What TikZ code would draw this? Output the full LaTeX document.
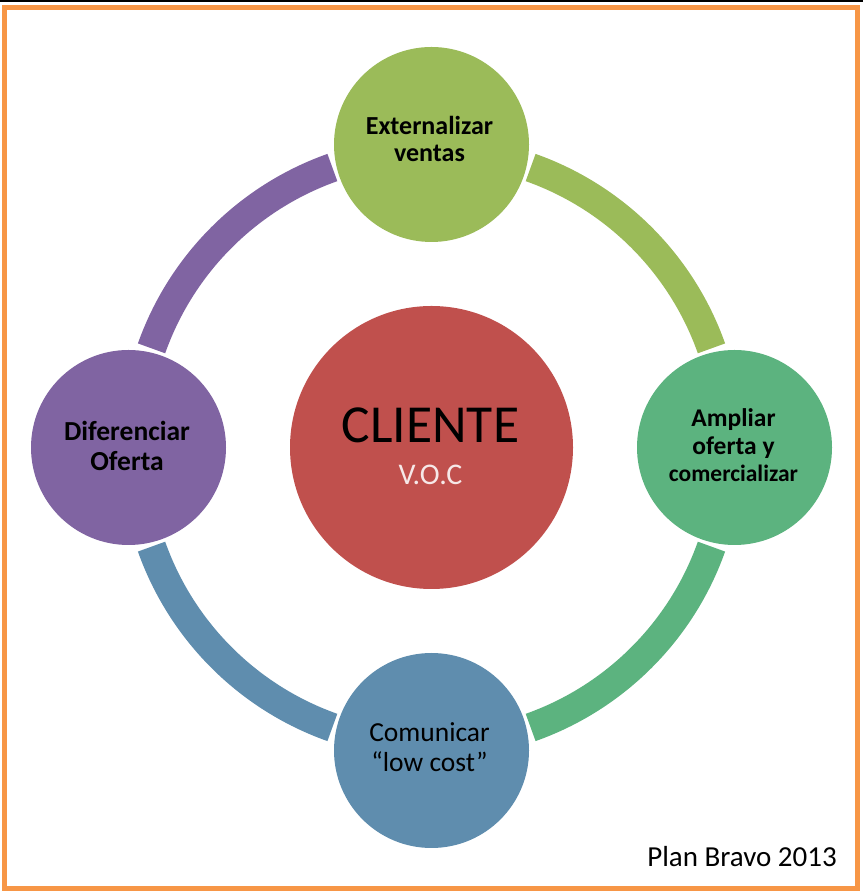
\documentclass[tikz,border=0pt]{standalone}
\usepackage{fontspec}
\setmainfont{Carlito}
\definecolor{cgreen}{HTML}{9BBB59}
\definecolor{cteal}{HTML}{5CB37F}
\definecolor{cblue}{HTML}{5F8DAE}
\definecolor{cpurple}{HTML}{8064A2}
\definecolor{cred}{HTML}{C0504D}
\definecolor{corange}{HTML}{F79646}
\definecolor{cvoc}{HTML}{F6E8E8}
\begin{document}
\begin{tikzpicture}[x=1pt,y=1pt,
  bubble/.style={circle, inner sep=0pt, minimum size=195pt, draw=none},
  lbl/.style={align=center, inner sep=0pt, text=black},
  ring/.style={line width=29pt},
]
\useasboundingbox (0,0) rectangle (863,893);
\fill[black] (0,891) rectangle (863,893);
\draw[corange, line width=5.5pt] (4.5,4.5) rectangle (857.5,885.5);
\coordinate (C) at (431.5,445.5);
% ring segments
\draw[ring, cgreen]  ([shift={(70.5:297)}]C)   arc[start angle=70.5,   end angle=19.5,   radius=297];
\draw[ring, cteal]   ([shift={(-19.5:297)}]C)  arc[start angle=-19.5,  end angle=-70.5,  radius=297];
\draw[ring, cblue]   ([shift={(-109.5:297)}]C) arc[start angle=-109.5, end angle=-160.5, radius=297];
\draw[ring, cpurple] ([shift={(160.5:297)}]C)  arc[start angle=160.5,  end angle=109.5,  radius=297];
% circles
\node[bubble, fill=cgreen]  (ext) at (431.5,748.5) {};
\node[bubble, fill=cteal]   (amp) at (734.5,445.5) {};
\node[bubble, fill=cblue]   (com) at (431.5,142.5) {};
\node[bubble, fill=cpurple] (dif) at (128.5,445.5) {};
\node[circle, inner sep=0pt, minimum size=283pt, fill=cred] (cli) at (C) {};
% labels
\node[lbl, font=\bfseries\fontsize{26}{27}\selectfont] (extt) at (429.5,753.6) {Externalizar\\ventas};
\node[lbl, font=\bfseries\fontsize{25.5}{27.5}\selectfont] (ampt) at (733.5,447.6) {Ampliar\\oferta y\\{\fontsize{23.5}{27.5}\selectfont comercializar}};
\node[lbl, font=\bfseries\fontsize{27.5}{30}\selectfont] (dift) at (127,447.5) {Diferenciar\\Oferta};
\node[lbl, font=\fontsize{27.5}{30}\selectfont] (comt) at (429.5,145.8) {Comunicar\\“low cost”};
\node[lbl, anchor=base, font=\fontsize{53.5}{60}\selectfont] (clit) at (430.5,450) {CLIENTE};
\node[lbl, anchor=base, text=cvoc, font=\fontsize{30}{36}\selectfont] (voct) at (430.5,408) {V.O.C};
\node[lbl, anchor=base east, font=\fontsize{29}{34}\selectfont] (plan) at (837,26.3) {Plan Bravo 2013};
\end{tikzpicture}
\end{document}
